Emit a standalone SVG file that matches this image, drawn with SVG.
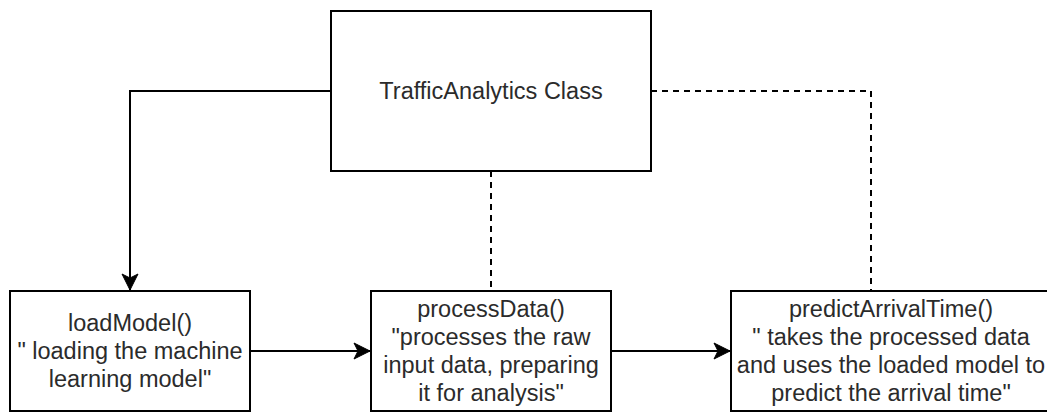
<svg xmlns="http://www.w3.org/2000/svg" width="1047" height="412" viewBox="0 0 1047 412">
<style>
.box{fill:#fff;stroke:#000;stroke-width:2}
.t{font-family:"Liberation Sans",Arial,sans-serif;font-size:23.5px;fill:#2b2b2b;text-anchor:middle;dominant-baseline:central}
.ln{fill:none;stroke:#000;stroke-width:2}
.dash{fill:none;stroke:#000;stroke-width:2;stroke-dasharray:6 5}
</style>
<defs>
<marker id="arr" markerUnits="userSpaceOnUse" markerWidth="20" markerHeight="20" viewBox="0 0 20 20" refX="18" refY="10" orient="auto">
<path d="M2,2 L18,10 L2,18 L6,10 Z" fill="#000" stroke="#000" stroke-width="1"/>
</marker>
</defs>
<rect width="1047" height="412" fill="#fff"/>
<g id="connectors">
<path class="ln" d="M331,91 H130 V290" marker-end="url(#arr)"/>
<path class="dash" d="M491,171 V291"/>
<path class="dash" d="M651,91 H871 V291"/>
<path class="ln" d="M250,351 H370" marker-end="url(#arr)"/>
<path class="ln" d="M611,351 H730" marker-end="url(#arr)"/>
</g>
<g id="trafficAnalytics">
<rect class="box" x="331" y="11" width="320" height="160"/>
<text class="t" x="491" y="91">TrafficAnalytics Class</text>
</g>
<g id="loadModel">
<rect class="box" x="10" y="291" width="240" height="120"/>
<text class="t" x="130" y="323">loadModel()</text>
<text class="t" x="130" y="351">" loading the machine</text>
<text class="t" x="130" y="379">learning model"</text>
</g>
<g id="processData">
<rect class="box" x="371" y="291" width="240" height="120"/>
<text class="t" x="491" y="309">processData()</text>
<text class="t" x="491" y="337">"processes the raw</text>
<text class="t" x="491" y="365">input data, preparing</text>
<text class="t" x="491" y="393">it for analysis"</text>
</g>
<g id="predictArrivalTime">
<rect class="box" x="731" y="291" width="320" height="120"/>
<text class="t" x="891" y="309">predictArrivalTime()</text>
<text class="t" x="891" y="337">" takes the processed data</text>
<text class="t" x="891" y="365">and uses the loaded model to</text>
<text class="t" x="891" y="393">predict the arrival time"</text>
</g>
</svg>
